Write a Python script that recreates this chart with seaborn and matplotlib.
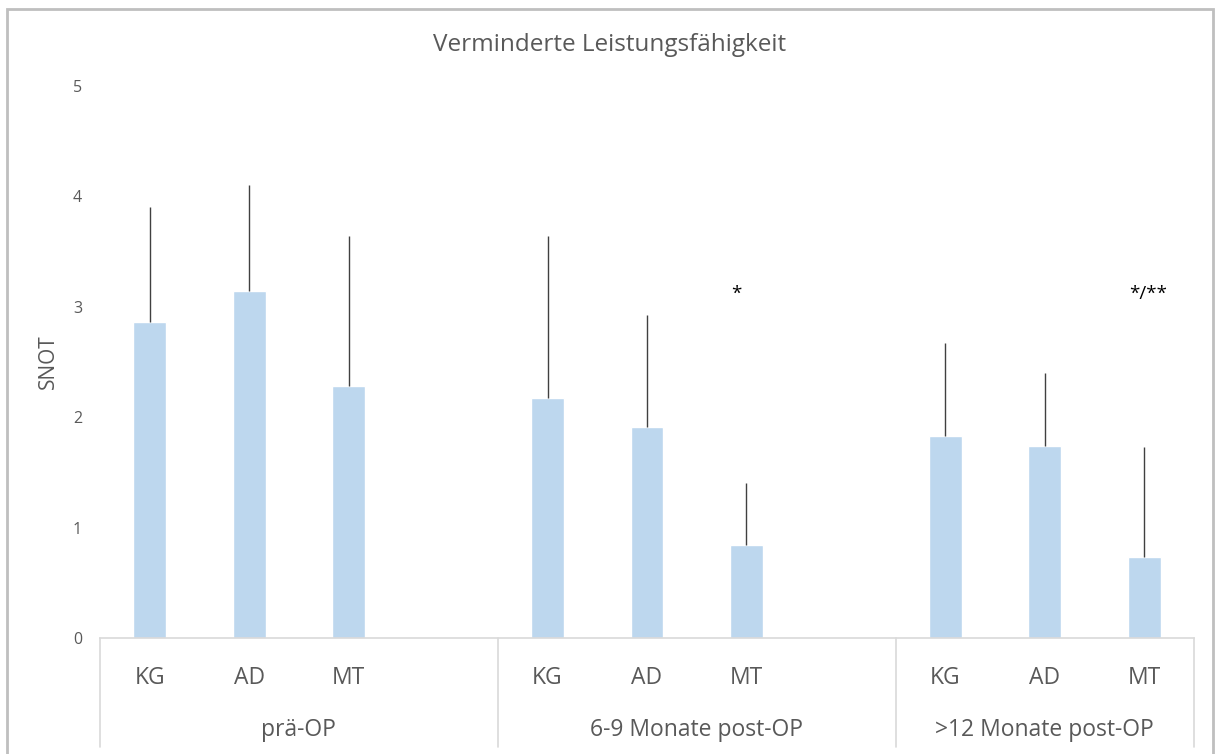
import matplotlib
matplotlib.use("Agg")
import matplotlib.pyplot as plt
import matplotlib.transforms as mtransforms
from matplotlib.patches import Rectangle
import numpy as np
import pandas as pd
import seaborn as sns

# Data: mean SNOT score and standard deviation per group and time point
timepoints = ["prä-OP", "6-9 Monate post-OP", ">12 Monate post-OP"]
groups = ["KG", "AD", "MT"]
means_pre = [2.86, 3.14, 2.28]
means_6_9 = [2.17, 1.91, 0.84]
means_12 = [1.83, 1.74, 0.73]
sd_pre = [1.04, 0.96, 1.36]
sd_6_9 = [1.47, 1.02, 0.56]
sd_12 = [0.84, 0.66, 1.00]
significance = {1: "*", 2: "*/**"}  # timepoint index -> marker above MT
yticks = [0, 1, 2, 3, 4, 5]

TEXT = "#595959"
BAR = "#BDD7EE"
LINE = "#D9D9D9"

rows = []
for t_idx, (m_list, s_list) in enumerate(zip([means_pre, means_6_9, means_12],
                                             [sd_pre, sd_6_9, sd_12])):
    for g_idx, (m, s) in enumerate(zip(m_list, s_list)):
        rows.append({"timepoint": timepoints[t_idx], "group": groups[g_idx],
                     "pos": t_idx * 4 + g_idx, "mean": m, "sd": s})
df = pd.DataFrame(rows)

sns.set_theme(style="white")
plt.rcParams["font.family"] = ["Open Sans", "DejaVu Sans"]

fig = plt.figure(figsize=(12.15, 7.54), dpi=100)
W, H = 1215, 754
ax_left, ax_right, ax_top, ax_bottom = 100, 1194, 86, 638
ax = fig.add_axes([ax_left / W, 1 - ax_bottom / H,
                   (ax_right - ax_left) / W, (ax_bottom - ax_top) / H])

sns.barplot(data=df, x="pos", y="mean", native_scale=True, width=0.33,
            color=BAR, saturation=1, errorbar=None, ax=ax, zorder=2)
ax.errorbar(df["pos"], df["mean"], yerr=[np.zeros(len(df)), df["sd"]],
            fmt="none", ecolor="#404040", elinewidth=1.0, capsize=0, zorder=3)

ax.set_xlim(-0.5, 10.5)
ax.set_ylim(0, 5)
ax.set_yticks(yticks)
ax.set_yticklabels([str(v) for v in yticks], fontsize=11.5, color=TEXT)
ax.tick_params(axis="y", length=0, pad=13)

ax.set_xticks(df["pos"])
ax.set_xticklabels(df["group"], fontsize=16.5, color=TEXT)
ax.tick_params(axis="x", length=0, pad=20)

for side in ["top", "right", "left"]:
    ax.spines[side].set_visible(False)
ax.spines["bottom"].set_color(LINE)
ax.spines["bottom"].set_linewidth(1.2)
ax.grid(False)

ax.set_xlabel("")
ax.set_ylabel("SNOT", fontsize=15, color=TEXT, labelpad=10)

# Title centred over the whole chart area
fig.text(610 / W, 1 - 45 / H, "Verminderte Leistungsfähigkeit", ha="center",
         va="center", fontsize=17.5, color=TEXT)

# Multi-level category axis: separators and time point labels
trans = mtransforms.blended_transform_factory(ax.transData, ax.transAxes)
sep_depth = (747 - ax_bottom) / (ax_bottom - ax_top)
for xs in [-0.5, 3.5, 7.5, 10.5]:
    ax.plot([xs, xs], [0, -sep_depth], transform=trans, color=LINE,
            lw=1.2, clip_on=False)
label_y = -(730 - ax_bottom) / (ax_bottom - ax_top)
for t_idx, name in enumerate(timepoints):
    start = t_idx * 4 - 0.5
    end = min(start + 4, 10.5)
    ax.text((start + end) / 2, label_y, name, transform=trans, ha="center",
            va="center", fontsize=16.5, color=TEXT)

# Significance markers above the MT bars
marker_dx = {1: -0.1, 2: 0.04}
for t_idx, mark in significance.items():
    ax.text(t_idx * 4 + 2 + marker_dx[t_idx], 3.12, mark, ha="center",
            va="center", fontsize=13.5, color="black")

# Chart area frame
fig.patches.append(Rectangle((7 / W, -0.05), (1213 - 7) / W, 1.05 - 9 / H,
                             transform=fig.transFigure, fill=False,
                             edgecolor="#BFBFBF", lw=2))

fig.savefig("out.png", dpi=100)
